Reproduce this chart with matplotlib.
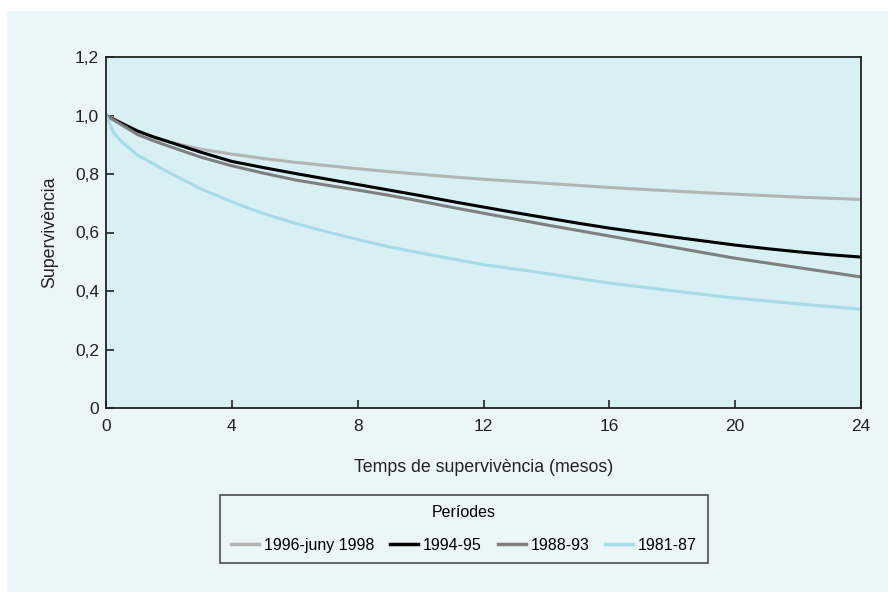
import matplotlib
matplotlib.use("Agg")
import matplotlib.pyplot as plt
from matplotlib.patches import Rectangle
from matplotlib.ticker import FuncFormatter

plt.rcParams['font.family'] = ['Liberation Sans', 'DejaVu Sans']

# mesos
mesos = [0, 0.25, 0.5, 1, 1.5, 2, 3, 4, 5, 6, 7, 8, 9, 10, 11, 12, 13, 14, 15, 16,
         17, 18, 19, 20, 21, 22, 23, 24]

# supervivència per període (llegit del gràfic)
s_1996_98 = [1.0, 0.99, 0.975, 0.948, 0.928, 0.91, 0.885, 0.868, 0.853, 0.84, 0.829, 0.818,
             0.808, 0.799, 0.79, 0.782, 0.775, 0.768, 0.761, 0.754, 0.748, 0.742, 0.736,
             0.731, 0.726, 0.721, 0.717, 0.713]
s_1994_95 = [1.0, 0.986, 0.973, 0.947, 0.927, 0.91, 0.875, 0.843, 0.822, 0.802, 0.783, 0.764,
             0.745, 0.726, 0.706, 0.687, 0.668, 0.65, 0.632, 0.615, 0.6, 0.585, 0.571,
             0.557, 0.545, 0.534, 0.524, 0.516]
s_1988_93 = [1.0, 0.984, 0.968, 0.935, 0.914, 0.895, 0.858, 0.828, 0.803, 0.78, 0.762, 0.745,
             0.727, 0.707, 0.686, 0.666, 0.646, 0.626, 0.607, 0.588, 0.569, 0.55, 0.531,
             0.512, 0.496, 0.48, 0.464, 0.448]
s_1981_87 = [1.0, 0.94, 0.91, 0.865, 0.835, 0.805, 0.75, 0.705, 0.665, 0.632, 0.603, 0.576,
             0.551, 0.53, 0.51, 0.49, 0.475, 0.46, 0.443, 0.427, 0.414, 0.401, 0.388,
             0.376, 0.366, 0.356, 0.347, 0.338]

periodes = ['1996-juny 1998', '1994-95', '1988-93', '1981-87']
series = [s_1996_98, s_1994_95, s_1988_93, s_1981_87]
colors = ['#b4b4b4', '#000000', '#7f7f7f', '#a6dce8']

fig = plt.figure(figsize=(8.88, 5.92), dpi=100)
fig.patch.set_facecolor('white')
# panell de fons
fig.patches.append(Rectangle((7 / 888, 0), 1, 1 - 11 / 592, transform=fig.transFigure,
                             facecolor='#eaf6f8', edgecolor='none', zorder=-1))

ax = fig.add_axes([106 / 888, 1 - 408 / 592, (861 - 106) / 888, (408 - 57) / 592])
ax.set_facecolor('#d8eff3')

for nom, s, c in zip(periodes, series, colors):
    ax.plot(mesos, s, color=c, lw=2.2, label=nom)

ax.set_xlim(0, 24)
ax.set_ylim(0, 1.2)
ax.set_xticks([0, 4, 8, 12, 16, 20, 24])
ax.set_yticks([0, 0.2, 0.4, 0.6, 0.8, 1.0, 1.2])
ax.yaxis.set_major_formatter(FuncFormatter(lambda v, p: '0' if v == 0 else f'{v:.1f}'.replace('.', ',')))
ax.tick_params(direction='in', length=6, width=1.2, labelsize=12.5, colors='#222222', pad=5)
ax.tick_params(axis='x', pad=8)
for sp in ax.spines.values():
    sp.set_linewidth(1.3)
    sp.set_color('#222222')

ax.set_xlabel('Temps de supervivència (mesos)', fontsize=12.8, color='#222222', labelpad=18)
ax.set_ylabel('Supervivència', fontsize=12.8, color='#222222', labelpad=12)

leg = fig.legend(loc='center', bbox_to_anchor=(464 / 888, 1 - 529 / 592), ncol=4,
                 title='Períodes', fontsize=11.5, title_fontsize=11.5, frameon=True,
                 fancybox=False, edgecolor='#222222', facecolor='#eaf6f8',
                 handlelength=1.75, handletextpad=0.3, columnspacing=1.0, borderpad=0.67,
                 labelspacing=1.1, borderaxespad=0)
leg.get_frame().set_linewidth(1.2)
for h in leg.legend_handles:
    h.set_linewidth(2.5)

fig.savefig('out.png', dpi=100)
